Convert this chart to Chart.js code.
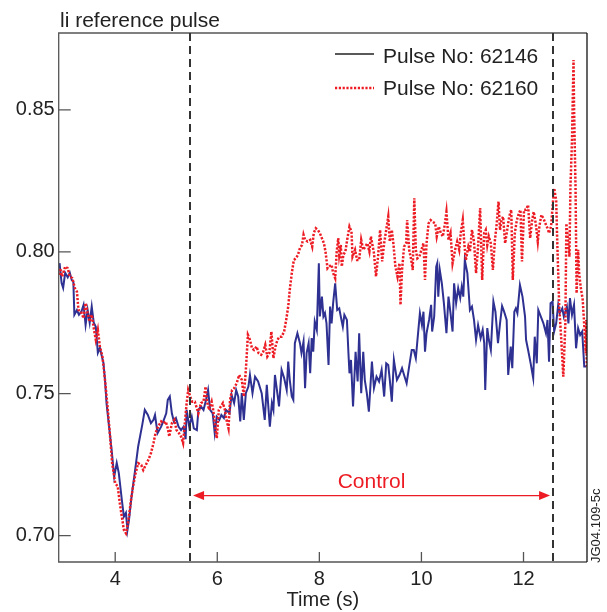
<!DOCTYPE html>
<html>
<head>
<meta charset="utf-8">
<script src="https://cdn.jsdelivr.net/npm/chart.js@4/dist/chart.umd.min.js"></script>
<style>
  html, body { margin: 0; padding: 0; background: #ffffff; }
  #wrap { width: 607px; height: 612px; }
</style>
</head>
<body>
<div id="wrap"><canvas id="chart" width="607" height="612"></canvas></div>
<script>
// Internal inductance li during the reference pulses, time in seconds

// Pulse No: 62146
const time62146 = [
  2.90, 2.91, 2.95, 2.98, 3.02, 3.07, 3.11, 3.15, 3.18, 3.20, 3.25, 3.29, 3.34, 3.38, 3.42, 3.46,
  3.50, 3.54, 3.58, 3.62, 3.66, 3.70, 3.77, 3.80, 3.83, 3.88, 3.93, 3.98, 4.03, 4.07, 4.13, 4.17,
  4.21, 4.24, 4.27, 4.32, 4.39, 4.45, 4.53, 4.58, 4.64, 4.70, 4.75, 4.78, 4.83, 4.90, 4.94, 5.00,
  5.03, 5.07, 5.11, 5.15, 5.19, 5.24, 5.29, 5.34, 5.38, 5.40, 5.45, 5.50, 5.54, 5.60, 5.63, 5.68,
  5.73, 5.78, 5.82, 5.86, 5.91, 5.95, 5.99, 6.04, 6.08, 6.13, 6.17, 6.24, 6.28, 6.33, 6.37, 6.41,
  6.45, 6.48, 6.52, 6.56, 6.61, 6.64, 6.69, 6.74, 6.80, 6.87, 6.93, 6.97, 7.00, 7.03, 7.07, 7.10,
  7.13, 7.16, 7.21, 7.26, 7.31, 7.36, 7.39, 7.42, 7.46, 7.49, 7.52, 7.57, 7.62, 7.65, 7.69, 7.72,
  7.75, 7.79, 7.82, 7.85, 7.88, 7.91, 7.95, 7.99, 8.01, 8.05, 8.08, 8.11, 8.14, 8.18, 8.21, 8.24,
  8.27, 8.31, 8.35, 8.39, 8.42, 8.46, 8.49, 8.54, 8.57, 8.59, 8.62, 8.66, 8.71, 8.75, 8.78, 8.82,
  8.86, 8.89, 8.93, 8.97, 9.03, 9.07, 9.12, 9.17, 9.22, 9.27, 9.31, 9.35, 9.38, 9.42, 9.46, 9.52,
  9.57, 9.62, 9.66, 9.71, 9.76, 9.81, 9.85, 9.89, 9.94, 9.97, 10.01, 10.04, 10.07, 10.10, 10.15, 10.19,
  10.21, 10.25, 10.29, 10.31, 10.33, 10.36, 10.40, 10.44, 10.49, 10.53, 10.57, 10.61, 10.64, 10.68, 10.72, 10.76,
  10.79, 10.82, 10.85, 10.90, 10.95, 10.99, 11.03, 11.07, 11.11, 11.16, 11.20, 11.23, 11.25, 11.29, 11.32, 11.36,
  11.41, 11.45, 11.50, 11.54, 11.58, 11.62, 11.67, 11.70, 11.75, 11.78, 11.82, 11.85, 11.88, 11.93, 11.98, 12.03,
  12.05, 12.09, 12.14, 12.19, 12.22, 12.26, 12.29, 12.34, 12.39, 12.44, 12.47, 12.50, 12.53, 12.57, 12.60, 12.64,
  12.68, 12.71, 12.76, 12.79, 12.85, 12.88, 12.91, 12.95, 12.99, 13.03, 13.07, 13.11, 13.15, 13.19, 13.23
];
const li62146 = [
  0.7954, 0.7960, 0.7890, 0.7873, 0.7926, 0.7910, 0.7926, 0.7900, 0.7895, 0.7778, 0.7795, 0.7778, 0.7790, 0.7813, 0.7742, 0.7795,
  0.7750, 0.7807, 0.7750, 0.7736, 0.7644, 0.7661, 0.7608, 0.7549, 0.7467, 0.7384, 0.7302, 0.7208, 0.7256, 0.7221, 0.7126, 0.7067,
  0.7080, 0.7020, 0.7055, 0.7137, 0.7231, 0.7314, 0.7390, 0.7443, 0.7425, 0.7396, 0.7408, 0.7425, 0.7361, 0.7384, 0.7402, 0.7431,
  0.7478, 0.7490, 0.7431, 0.7402, 0.7414, 0.7384, 0.7372, 0.7384, 0.7340, 0.7443, 0.7384, 0.7419, 0.7378, 0.7372, 0.7443, 0.7455,
  0.7443, 0.7478, 0.7513, 0.7443, 0.7431, 0.7361, 0.7419, 0.7408, 0.7425, 0.7414, 0.7443, 0.7431, 0.7496, 0.7467, 0.7513, 0.7490,
  0.7402, 0.7502, 0.7408, 0.7502, 0.7525, 0.7566, 0.7502, 0.7560, 0.7543, 0.7502, 0.7408, 0.7531, 0.7455, 0.7384, 0.7467, 0.7443,
  0.7566, 0.7525, 0.7455, 0.7584, 0.7555, 0.7513, 0.7613, 0.7549, 0.7490, 0.7478, 0.7678, 0.7713, 0.7678, 0.7643, 0.7684, 0.7519,
  0.7643, 0.7678, 0.7572, 0.7696, 0.7648, 0.7754, 0.7725, 0.7960, 0.7772, 0.7842, 0.7772, 0.7784, 0.7748, 0.7601, 0.7807, 0.7748,
  0.7819, 0.7889, 0.7795, 0.7801, 0.7772, 0.7736, 0.7778, 0.7760, 0.7643, 0.7572, 0.7619, 0.7455, 0.7648, 0.7543, 0.7713, 0.7502,
  0.7648, 0.7549, 0.7502, 0.7437, 0.7613, 0.7520, 0.7560, 0.7543, 0.7584, 0.7490, 0.7607, 0.7601, 0.7549, 0.7472, 0.7619, 0.7549,
  0.7566, 0.7590, 0.7566, 0.7537, 0.7596, 0.7654, 0.7654, 0.7625, 0.7725, 0.7784, 0.7742, 0.7789, 0.7648, 0.7713, 0.7760, 0.7813,
  0.7719, 0.7772, 0.7948, 0.7960, 0.7842, 0.7936, 0.7889, 0.7819, 0.7713, 0.7842, 0.7784, 0.7719, 0.7889, 0.7819, 0.7872, 0.7837,
  0.7877, 0.7842, 0.7971, 0.7925, 0.7795, 0.7807, 0.7760, 0.7690, 0.7742, 0.7696, 0.7725, 0.7678, 0.7513, 0.7731, 0.7690, 0.7654,
  0.7825, 0.7789, 0.7678, 0.7748, 0.7809, 0.7789, 0.7760, 0.7566, 0.7666, 0.7590, 0.7789, 0.7801, 0.7784, 0.7883, 0.7842, 0.7772,
  0.7690, 0.7654, 0.7607, 0.7555, 0.7701, 0.7607, 0.7795, 0.7772, 0.7748, 0.7713, 0.7760, 0.7613, 0.7819, 0.7825, 0.7719, 0.7748,
  0.7813, 0.7784, 0.7801, 0.7772, 0.7807, 0.7748, 0.7837, 0.7778, 0.7813, 0.7660, 0.7731, 0.7707, 0.7719, 0.7596, 0.7596
];

// Pulse No: 62160
const time62160 = [
  2.90, 2.92, 2.96, 3.02, 3.07, 3.11, 3.16, 3.21, 3.25, 3.28, 3.33, 3.38, 3.42, 3.46, 3.50, 3.54,
  3.58, 3.62, 3.66, 3.70, 3.75, 3.80, 3.85, 3.90, 3.94, 4.00, 4.05, 4.09, 4.13, 4.17, 4.21, 4.26,
  4.31, 4.35, 4.40, 4.45, 4.51, 4.55, 4.60, 4.65, 4.70, 4.75, 4.79, 4.84, 4.90, 4.94, 4.99, 5.03,
  5.06, 5.11, 5.16, 5.20, 5.25, 5.29, 5.33, 5.37, 5.40, 5.43, 5.47, 5.51, 5.56, 5.63, 5.68, 5.73,
  5.77, 5.80, 5.84, 5.89, 5.92, 5.96, 5.99, 6.03, 6.07, 6.11, 6.15, 6.18, 6.22, 6.25, 6.29, 6.33,
  6.38, 6.43, 6.48, 6.52, 6.56, 6.60, 6.64, 6.68, 6.72, 6.77, 6.81, 6.86, 6.90, 6.94, 6.98, 7.02,
  7.06, 7.10, 7.14, 7.18, 7.22, 7.26, 7.31, 7.35, 7.39, 7.42, 7.46, 7.50, 7.54, 7.58, 7.62, 7.66,
  7.69, 7.72, 7.77, 7.82, 7.86, 7.89, 7.93, 7.97, 8.01, 8.05, 8.09, 8.12, 8.16, 8.19, 8.24, 8.27,
  8.31, 8.34, 8.37, 8.39, 8.42, 8.44, 8.47, 8.51, 8.55, 8.59, 8.63, 8.65, 8.70, 8.74, 8.78, 8.82,
  8.86, 8.90, 8.94, 8.98, 9.01, 9.07, 9.11, 9.15, 9.19, 9.23, 9.27, 9.31, 9.35, 9.38, 9.42, 9.45,
  9.49, 9.53, 9.57, 9.59, 9.62, 9.66, 9.70, 9.72, 9.76, 9.80, 9.83, 9.86, 9.89, 9.92, 9.96, 10.00,
  10.04, 10.07, 10.10, 10.14, 10.18, 10.22, 10.27, 10.30, 10.34, 10.38, 10.42, 10.46, 10.49, 10.53, 10.57, 10.61,
  10.66, 10.70, 10.74, 10.77, 10.81, 10.84, 10.87, 10.92, 10.95, 10.99, 11.03, 11.07, 11.11, 11.15, 11.19, 11.23,
  11.26, 11.29, 11.32, 11.36, 11.40, 11.44, 11.47, 11.51, 11.54, 11.57, 11.60, 11.64, 11.68, 11.72, 11.76, 11.79,
  11.83, 11.87, 11.91, 11.94, 11.97, 12.01, 12.05, 12.09, 12.13, 12.17, 12.20, 12.24, 12.28, 12.31, 12.35, 12.39,
  12.43, 12.47, 12.50, 12.54, 12.58, 12.60, 12.64, 12.66, 12.70, 12.74, 12.78, 12.82, 12.84, 12.87, 12.90, 12.92,
  12.95, 12.98, 12.99, 13.02, 13.04, 13.07, 13.09, 13.12, 13.16, 13.18, 13.20, 13.22, 13.23, 13.24
];
const li62160 = [
  0.7919, 0.7942, 0.7913, 0.7948, 0.7942, 0.7913, 0.7907, 0.7872, 0.7860, 0.7795, 0.7790, 0.7766, 0.7819, 0.7784, 0.7754, 0.7778,
  0.7731, 0.7690, 0.7725, 0.7666, 0.7631, 0.7549, 0.7455, 0.7349, 0.7255, 0.7185, 0.7173, 0.7114, 0.7067, 0.7020, 0.7008, 0.7055,
  0.7126, 0.7173, 0.7220, 0.7255, 0.7249, 0.7231, 0.7249, 0.7267, 0.7290, 0.7326, 0.7361, 0.7384, 0.7402, 0.7396, 0.7402, 0.7378,
  0.7349, 0.7396, 0.7408, 0.7372, 0.7361, 0.7349, 0.7326, 0.7408, 0.7467, 0.7513, 0.7490, 0.7472, 0.7472, 0.7431, 0.7467, 0.7472,
  0.7525, 0.7472, 0.7443, 0.7472, 0.7443, 0.7384, 0.7343, 0.7443, 0.7455, 0.7467, 0.7443, 0.7408, 0.7378, 0.7478, 0.7513, 0.7519,
  0.7537, 0.7566, 0.7549, 0.7490, 0.7584, 0.7707, 0.7690, 0.7660, 0.7654, 0.7666, 0.7643, 0.7637, 0.7648, 0.7672, 0.7631, 0.7643,
  0.7719, 0.7625, 0.7666, 0.7690, 0.7701, 0.7701, 0.7719, 0.7760, 0.7807, 0.7866, 0.7925, 0.7971, 0.7977, 0.7989, 0.8013, 0.8024,
  0.8060, 0.8042, 0.8036, 0.8042, 0.8018, 0.8066, 0.8083, 0.8077, 0.8066, 0.8048, 0.8030, 0.8001, 0.7942, 0.7948, 0.7954, 0.7925,
  0.7907, 0.8001, 0.8048, 0.7989, 0.8024, 0.7948, 0.7989, 0.8001, 0.8048, 0.8089, 0.8071, 0.7983, 0.8007, 0.7971, 0.7971, 0.8042,
  0.8007, 0.8018, 0.8030, 0.8001, 0.8054, 0.7995, 0.7913, 0.7983, 0.8077, 0.7966, 0.8030, 0.8077, 0.8124, 0.8036, 0.8077, 0.8030,
  0.7948, 0.7913, 0.7960, 0.7813, 0.7936, 0.8018, 0.8030, 0.8112, 0.8007, 0.7971, 0.7936, 0.8189, 0.8007, 0.7977, 0.7983, 0.8007,
  0.8030, 0.7901, 0.8030, 0.8100, 0.8112, 0.8106, 0.8100, 0.8054, 0.8089, 0.8066, 0.8054, 0.8100, 0.8141, 0.8042, 0.8066, 0.7960,
  0.8007, 0.8036, 0.8007, 0.8066, 0.8112, 0.8030, 0.7971, 0.8018, 0.8001, 0.8077, 0.8036, 0.7925, 0.8018, 0.8154, 0.7901, 0.8066,
  0.8077, 0.8024, 0.8054, 0.8030, 0.7936, 0.8042, 0.8089, 0.8177, 0.8077, 0.8112, 0.8124, 0.8030, 0.8077, 0.8124, 0.8148, 0.7901,
  0.8066, 0.8112, 0.8136, 0.8148, 0.7966, 0.8148, 0.8148, 0.8165, 0.8048, 0.8112, 0.8141, 0.8100, 0.8036, 0.8089, 0.8130, 0.8118,
  0.8100, 0.8083, 0.8066, 0.8089, 0.8183, 0.8224, 0.8183, 0.8042, 0.7807, 0.7690, 0.7560, 0.7748, 0.8100, 0.8042, 0.7983, 0.8230,
  0.8394, 0.8676, 0.8512, 0.8218, 0.7854, 0.8007, 0.7925, 0.7877, 0.7831, 0.7772, 0.7713, 0.7643, 0.7760, 0.7596
];

// Axis ranges and tick values
const xMin = 2.893, xMax = 13.244;
const yMin = 0.6907, yMax = 0.8771;
const xTicks = [4, 6, 8, 10, 12];
const yTicks = [0.70, 0.75, 0.80, 0.85];

// Control window markers (s) and the arrow between them
const controlStart = 5.466, controlEnd = 12.578;
const arrowFrom = 5.525, arrowTo = 12.52, arrowLevel = 0.7141;
const controlLabel = 'Control';

const seriesNames = ['Pulse No: 62146', 'Pulse No: 62160'];
const chartTitle = 'li reference pulse';
const xTitle = 'Time (s)';
const figureId = 'JG04.109-5c';

const BLUE = '#2e3192';
const RED = '#ed1c24';
const FONT = '"Liberation Sans", Arial, Helvetica, sans-serif';

function toPoints(xs, ys) { return xs.map((x, i) => ({ x: x, y: ys[i] })); }

const decor = {
  id: 'decor',
  afterDatasetsDraw(chart) {
    const { ctx, chartArea: a, scales: { x, y } } = chart;
    ctx.save();

    // frame: grey left/top/bottom, dark right edge
    ctx.strokeStyle = '#555';
    ctx.lineWidth = 1.3;
    ctx.beginPath();
    ctx.moveTo(a.right, a.top); ctx.lineTo(a.left, a.top); ctx.lineTo(a.left, a.bottom); ctx.lineTo(a.right, a.bottom);
    ctx.stroke();
    ctx.strokeStyle = '#111';
    ctx.beginPath(); ctx.moveTo(a.right, a.top); ctx.lineTo(a.right, a.bottom); ctx.stroke();

    // inward tick marks
    ctx.strokeStyle = '#555';
    ctx.beginPath();
    yTicks.forEach(v => { const py = y.getPixelForValue(v); ctx.moveTo(a.left, py); ctx.lineTo(a.left + 12, py); });
    xTicks.forEach(v => { const px = x.getPixelForValue(v); ctx.moveTo(px, a.bottom); ctx.lineTo(px, a.bottom - 10); });
    ctx.stroke();

    // control window markers
    ctx.strokeStyle = '#333';
    ctx.lineWidth = 2;
    ctx.setLineDash([8, 5]);
    [controlStart, controlEnd].forEach(t => {
      const px = Math.round(x.getPixelForValue(t));
      ctx.beginPath(); ctx.moveTo(px, a.top); ctx.lineTo(px, a.bottom); ctx.stroke();
    });
    ctx.setLineDash([]);

    // double arrow
    const ax1 = x.getPixelForValue(arrowFrom), ax2 = x.getPixelForValue(arrowTo), ay = y.getPixelForValue(arrowLevel);
    ctx.strokeStyle = RED; ctx.fillStyle = RED; ctx.lineWidth = 1.4;
    ctx.beginPath(); ctx.moveTo(ax1 + 8, ay); ctx.lineTo(ax2 - 8, ay); ctx.stroke();
    ctx.beginPath(); ctx.moveTo(ax1, ay); ctx.lineTo(ax1 + 11, ay - 4.5); ctx.lineTo(ax1 + 11, ay + 4.5); ctx.closePath(); ctx.fill();
    ctx.beginPath(); ctx.moveTo(ax2, ay); ctx.lineTo(ax2 - 11, ay - 4.5); ctx.lineTo(ax2 - 11, ay + 4.5); ctx.closePath(); ctx.fill();
    ctx.font = '21px ' + FONT;
    ctx.textAlign = 'center'; ctx.textBaseline = 'alphabetic';
    ctx.fillText(controlLabel, (ax1 + ax2) / 2, ay - 8);

    // legend
    ctx.font = '21px ' + FONT;
    ctx.textAlign = 'left';
    ctx.fillStyle = '#222';
    ctx.strokeStyle = '#222'; ctx.lineWidth = 1.5;
    ctx.beginPath(); ctx.moveTo(335, 54); ctx.lineTo(374, 54); ctx.stroke();
    ctx.fillText(seriesNames[0], 383, 62.5);
    ctx.strokeStyle = RED; ctx.lineWidth = 2.5; ctx.setLineDash([2.2, 1.6]);
    ctx.beginPath(); ctx.moveTo(335, 88); ctx.lineTo(374, 88); ctx.stroke();
    ctx.setLineDash([]);
    ctx.fillText(seriesNames[1], 383, 95);

    // titles
    ctx.fillStyle = '#222';
    ctx.font = '21px ' + FONT;
    ctx.textAlign = 'left';
    ctx.fillText(chartTitle, 60, 27);
    ctx.font = '20px ' + FONT;
    ctx.textAlign = 'center';
    ctx.fillText(xTitle, (a.left + a.right) / 2, 606);

    // figure id, rotated
    ctx.font = '13px ' + FONT;
    ctx.translate(600, a.bottom + 1);
    ctx.rotate(-Math.PI / 2);
    ctx.textAlign = 'left';
    ctx.fillText(figureId, 0, 0);
    ctx.restore();
  }
};

new Chart(document.getElementById('chart'), {
  type: 'line',
  data: {
    datasets: [
      {
        label: seriesNames[0],
        data: toPoints(time62146, li62146),
        borderColor: BLUE,
        borderWidth: 2,
        pointRadius: 0,
        tension: 0,
        order: 1
      },
      {
        label: seriesNames[1],
        data: toPoints(time62160, li62160),
        borderColor: RED,
        borderWidth: 2.5,
        borderDash: [2.2, 1.6],
        pointRadius: 0,
        tension: 0,
        order: 0
      }
    ]
  },
  options: {
    responsive: false,
    animation: false,
    events: [],
    layout: { padding: { top: 33, right: 20, left: 0, bottom: 0 } },
    plugins: { legend: { display: false }, tooltip: { enabled: false } },
    scales: {
      x: {
        type: 'linear',
        min: xMin, max: xMax,
        grid: { display: false, drawTicks: false },
        border: { display: false },
        afterBuildTicks: s => { s.ticks = xTicks.map(v => ({ value: v })); },
        afterFit: s => { s.height = 50; },
        ticks: { color: '#222', font: { family: FONT, size: 20 }, padding: 5, maxRotation: 0, callback: v => String(v) }
      },
      y: {
        type: 'linear',
        min: yMin, max: yMax,
        grid: { display: false, drawTicks: false },
        border: { display: false },
        afterBuildTicks: s => { s.ticks = yTicks.map(v => ({ value: v })); },
        afterFit: s => { s.width = 58.7; },
        ticks: { color: '#222', font: { family: FONT, size: 20 }, padding: 4, callback: v => v.toFixed(2) }
      }
    }
  },
  plugins: [decor]
});
</script>
</body>
</html>
